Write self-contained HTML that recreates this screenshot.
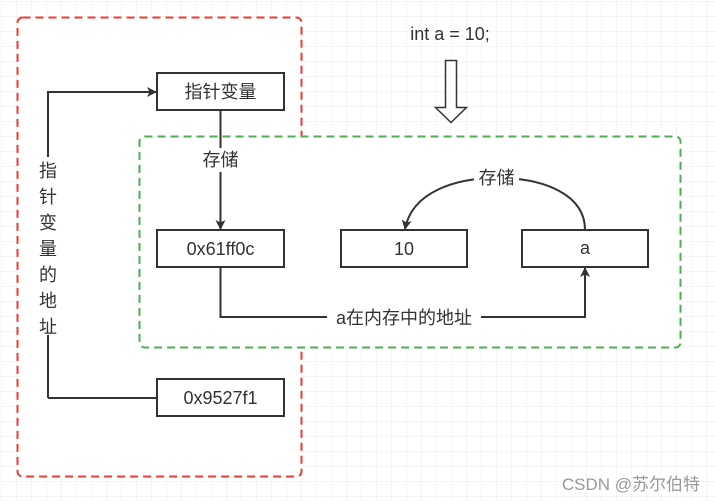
<!DOCTYPE html>
<html><head><meta charset="utf-8"><style>
html,body{margin:0;padding:0;width:715px;height:501px;overflow:hidden;background:#fff;}
</style></head><body>
<svg width="715" height="501" xmlns="http://www.w3.org/2000/svg" font-family="'Liberation Sans','Noto Sans CJK SC',sans-serif">
<defs>
<pattern id="g" width="15" height="15" patternUnits="userSpaceOnUse" x="2" y="2">
<path d="M15 0V15M0 15H15" fill="none" stroke="#ebebeb" stroke-width="1"/>
</pattern>
<marker id="ar" markerWidth="10" markerHeight="10" refX="9" refY="5" orient="auto" markerUnits="userSpaceOnUse">
<path d="M0,0 L10,5 L0,10 L2.5,5 Z" fill="#333"/>
</marker>
</defs>
<rect width="715" height="501" fill="url(#g)"/>
<rect x="17.5" y="17.5" width="284" height="459" rx="5" fill="#fff" stroke="#ec3b33" stroke-width="2" stroke-dasharray="8,5"/>
<rect x="139.5" y="136.5" width="541" height="211" rx="5" fill="#fff" stroke="#4caf50" stroke-width="2" stroke-dasharray="8,5"/>
<!-- int a = 10 -->
<text x="450" y="40" font-size="18" text-anchor="middle" fill="#333">int a = 10;</text>
<path d="M445.5 60.5H456.5V107.5H466.5L451 122.5L435.5 107.5H445.5Z" fill="#fff" stroke="#333" stroke-width="1.5"/>
<!-- boxes -->
<g fill="#fff" stroke="#333" stroke-width="2">
<rect x="157" y="73" width="127" height="37"/>
<rect x="157" y="230" width="127" height="37"/>
<rect x="341" y="230" width="126" height="37"/>
<rect x="522" y="230" width="126" height="37"/>
<rect x="157" y="379" width="127" height="37"/>
</g>
<g font-size="18" fill="#333" text-anchor="middle">
<text x="220.5" y="98">指针变量</text>
<text x="220.5" y="255">0x61ff0c</text>
<text x="404" y="255">10</text>
<text x="585" y="254">a</text>
<text x="220.5" y="404">0x9527f1</text>
</g>
<!-- connectors -->
<g fill="none" stroke="#333" stroke-width="2">
<path d="M48 398V92H156" marker-end="url(#ar)"/>
<path d="M220.5 110V229" marker-end="url(#ar)"/>
<path d="M48 398H157"/>
<path d="M220.5 267V317H585V268" marker-end="url(#ar)"/>
<path d="M585 230C585 195 545 178 497 178C455 178 412 192 405 229" marker-end="url(#ar)"/>
</g>
<!-- labels with white bg -->
<rect x="198" y="148" width="45" height="24" fill="#fff"/>
<text x="220.5" y="166" font-size="18" fill="#333" text-anchor="middle">存储</text>
<rect x="474" y="167" width="45" height="24" fill="#fff"/>
<text x="496.5" y="184" font-size="18" fill="#333" text-anchor="middle">存储</text>
<rect x="327" y="306" width="154" height="24" fill="#fff"/>
<text x="404" y="324" font-size="18" fill="#333" text-anchor="middle">a在内存中的地址</text>
<rect x="36" y="157" width="24" height="178" fill="#fff"/>
<g font-size="18" fill="#333" text-anchor="middle">
<text x="48" y="177">指</text>
<text x="48" y="203">针</text>
<text x="48" y="229">变</text>
<text x="48" y="255">量</text>
<text x="48" y="281">的</text>
<text x="48" y="307">地</text>
<text x="48" y="333">址</text>
</g>
<text x="700" y="490" font-size="17" fill="#999" text-anchor="end">CSDN @苏尔伯特</text>
</svg>
</body></html>
